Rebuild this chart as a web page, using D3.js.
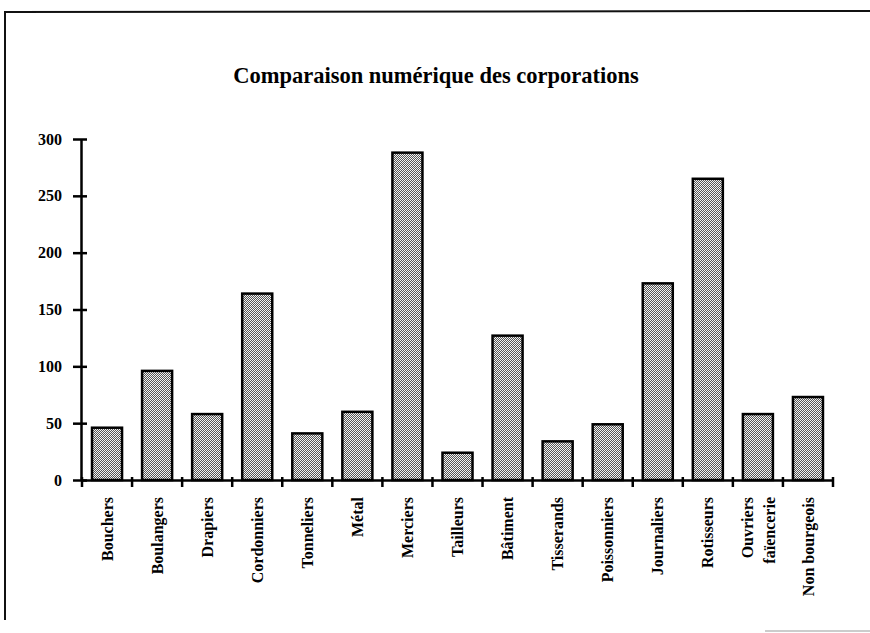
<script src="https://d3js.org/d3.v7.min.js"></script>

<style>
    body { margin: 0; background: #fff; }
    svg { display: block; }
    text { font-family: "Liberation Serif", "Times New Roman", serif; font-weight: bold; fill: #000; }
</style>

<svg width="870" height="633"></svg>

<script>
    // data
    var categories = ['Bouchers', 'Boulangers', 'Drapiers', 'Cordonniers', 'Tonneliers', 'Métal',
        'Merciers', 'Tailleurs', 'Bâtiment', 'Tisserands', 'Poissonniers', 'Journaliers',
        'Rotisseurs', 'Ouvriers\nfaïencerie', 'Non bourgeois'];
    var values = [46, 96, 58, 164, 41, 60, 288, 24, 127, 34, 49, 173, 265, 58, 73];
    var yTicks = [0, 50, 100, 150, 200, 250, 300];
    var title = 'Comparaison numérique des corporations';

    var svg = d3.select('svg');

    // stippled fill like the printed original (checker of dots)
    var pat = svg.append('defs').append('pattern')
        .attr('id', 'stipple')
        .attr('width', 2).attr('height', 2)
        .attr('patternUnits', 'userSpaceOnUse');
    pat.append('rect').attr('width', 2).attr('height', 2).attr('fill', '#f2f2f2');
    pat.append('rect').attr('x', 1).attr('y', 0).attr('width', 1).attr('height', 1).attr('fill', '#555');
    pat.append('rect').attr('x', 0).attr('y', 1).attr('width', 1).attr('height', 1).attr('fill', '#555');

    // frame of the scanned page
    svg.append('line').attr('x1', 4).attr('y1', 12).attr('x2', 870).attr('y2', 11)
        .attr('stroke', '#111').attr('stroke-width', 2);
    svg.append('line').attr('x1', 5).attr('y1', 11).attr('x2', 5).attr('y2', 620)
        .attr('stroke', '#111').attr('stroke-width', 2);
    svg.append('line').attr('x1', 765).attr('y1', 631).attr('x2', 870).attr('y2', 631)
        .attr('stroke', '#bbb').attr('stroke-width', 1.5);

    svg.append('text')
        .attr('x', 436).attr('y', 83)
        .attr('text-anchor', 'middle')
        .style('font-size', '22.5px')
        .text(title);

    var x = d3.scaleBand()
        .domain(categories)
        .range([82, 833])
        .paddingInner(0.4)
        .paddingOuter(0.2);
    var y = d3.scaleLinear()
        .domain([0, 300])
        .range([480, 139]);

    // bars
    svg.selectAll('rect.bar')
        .data(values)
        .enter()
        .append('rect')
        .attr('class', 'bar')
        .attr('x', function(d, i) { return x(categories[i]); })
        .attr('y', function(d) { return y(d); })
        .attr('width', x.bandwidth())
        .attr('height', function(d) { return y(0) - y(d); })
        .attr('fill', 'url(#stipple)')
        .attr('stroke', '#000')
        .attr('stroke-width', 2.5);

    // y axis
    var yAxis = d3.axisLeft(y)
        .tickValues(yTicks)
        .tickSizeInner(8)
        .tickSizeOuter(0)
        .tickPadding(11);
    var gy = svg.append('g')
        .attr('transform', 'translate(81,0)')
        .call(yAxis);
    gy.select('.domain').attr('stroke', '#000').attr('stroke-width', 2.5);
    gy.selectAll('.tick line').attr('x1', 6).attr('x2', -8).attr('stroke-width', 2.5);
    gy.selectAll('.tick text').style('font-size', '16px').style('font-family', '"Liberation Serif", serif');

    // x axis: labels at band centres, ticks at band edges
    var xAxis = d3.axisBottom(x).tickSize(0).tickFormat('');
    var gx = svg.append('g')
        .attr('transform', 'translate(0,480)')
        .call(xAxis);
    gx.select('.domain').attr('stroke', '#000').attr('stroke-width', 2.5);

    var edges = d3.range(categories.length + 1).map(function(i) { return 82 + i * x.step(); });
    gx.selectAll('line.edge')
        .data(edges)
        .enter()
        .append('line')
        .attr('class', 'edge')
        .attr('x1', function(d) { return d; })
        .attr('x2', function(d) { return d; })
        .attr('y1', -3)
        .attr('y2', 7)
        .attr('stroke', '#000')
        .attr('stroke-width', 2.5);

    categories.forEach(function(c) {
        var lines = c.split('\n');
        var cx = x(c) + x.bandwidth() / 2;
        lines.forEach(function(l, j) {
            var off = (j - (lines.length - 1) / 2) * 22;
            svg.append('text')
                .attr('transform', 'translate(' + (cx + off) + ',497) rotate(-90)')
                .attr('text-anchor', 'end')
                .attr('dy', '0.35em')
                .style('font-size', '16px')
                .text(l);
        });
    });
</script>
